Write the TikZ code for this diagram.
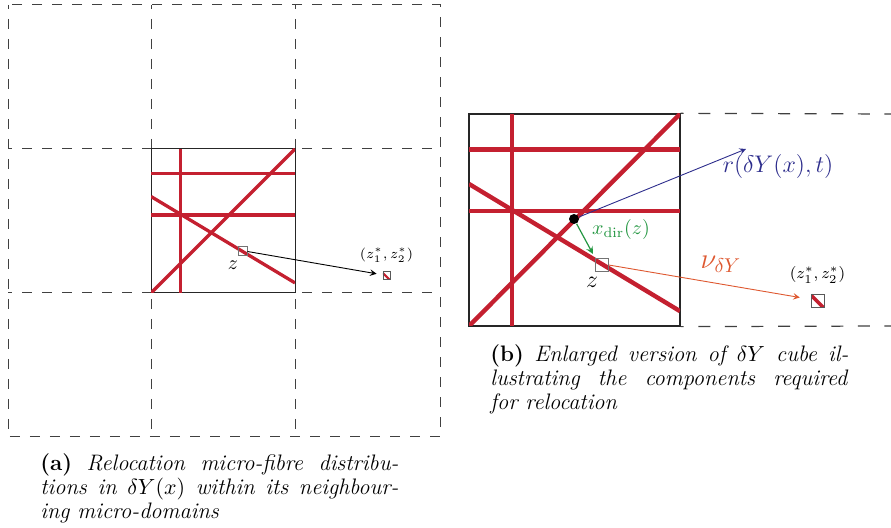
\documentclass[tikz,border=0pt]{standalone}
\usepackage{amsmath,amssymb}
\usepackage{xcolor}
\usetikzlibrary{shapes,arrows,positioning}

\definecolor{fibrered}{RGB}{196,32,48}
\definecolor{rblue}{RGB}{45,45,140}
\definecolor{xgreen}{RGB}{35,150,65}
\definecolor{nuorange}{RGB}{222,88,48}

% the five fibres of one micro-domain, in unit cube coordinates
\newcommand{\fibrenet}[1]{%
  \draw[fibre, line width=#1] (0.205,0) -- (0.205,1);
  \draw[fibre, line width=#1] (0,0.168) -- (1,0.168);
  \draw[fibre, line width=#1] (0,0.458) -- (1,0.458);
  \draw[fibre, line width=#1] (0,1) -- (1,0);
  \draw[fibre, line width=#1] (0,0.33) -- (1,0.93);
}

\begin{document}
\begin{tikzpicture}[
    x=0.5pt, y=-0.5pt,
    >=stealth,
    gridline/.style={dash pattern=on 5pt off 5pt, dash phase=3pt, line width=0.5pt, black!75},
    gridlineB/.style={dash pattern=on 6pt off 7.3pt, dash phase=4.5pt, line width=0.6pt, black!75},
    cellbox/.style={rectangle, draw=black!85, line width=0.5pt, inner sep=0pt},
    fibre/.style={draw=fibrered, line cap=butt},
    zbox/.style={rectangle, draw=black!55, line width=0.5pt, inner sep=0pt},
    starbox/.style={rectangle, draw=black!65, line width=0.4pt, inner sep=0pt,
        path picture={\draw[fibrered, line width=#1]
            ([yshift=-0.6pt]path picture bounding box.north west) -- ([yshift=-0.6pt]path picture bounding box.south east);}},
    arrow/.style={->, line width=0.45pt},
    caption/.style={anchor=north west, text width=179pt, inner sep=0pt, align=justify,
        font=\fontsize{11.2}{12}\selectfont}
]
\useasboundingbox (0,0) rectangle (891,528);

% (a) micro-domain with its neighbours
\draw[gridline] (8,5) rectangle (440,437);
\foreach \x in {151,295}
    \draw[gridline] (\x,5) -- (\x,437);
\foreach \y in {149,293}
    \draw[gridline] (8,\y) -- (440,\y);
\node[cellbox, minimum size=72pt] (cellA) at (223,221) {};
\begin{scope}[shift={(151,149)}, x=72pt, y=-72pt]
    \clip (0,0) rectangle (1,1);
    \fibrenet{1.65pt}
\end{scope}

\node[zbox, minimum size=4.5pt] (zA) at (242.5,251.5) {};
\node (zlabA) at (233,265) {$z$};
\node[starbox=1.1pt, minimum size=3.6pt] (starA) at (386.5,275.5) {};
\node[above=1pt of starA, font=\scriptsize] (starlabA) {$(z_1^*,z_2^*)$};
\draw[arrow, shorten >=3pt] (zA.east) -- (starA);

\node[caption] (capA) at (40,453) {\textbf{(a)} \textit{Relocation micro-fibre distribu-}\linebreak
    \textit{tions in $\delta Y(x)$ within its neighbour-}\linebreak
    \textit{ing micro-domains}};

% (b) enlarged cube
\node[cellbox, minimum width=105.5pt, minimum height=106pt, line width=0.65pt] (cellB) at (574.5,220) {};
\draw[gridlineB] (cellB.north east) -- (891,114);
\draw[gridlineB] (cellB.south east) -- (891,326);
\begin{scope}[shift={(469,114)}, x=105.5pt, y=-106pt]
    \clip (0,0) rectangle (1,1);
    \fibrenet{2.2pt}
\end{scope}

\node[circle, fill, inner sep=0pt, minimum size=5pt] (dot) at (574,219) {};
\node[zbox, minimum size=6.2pt] (zB) at (602,265) {};
\node[font=\large] (zlabB) at (592,282) {$z$};
\node[starbox=1.8pt, minimum size=6.5pt] (starB) at (817.5,300.5) {};
\node[above=1.5pt of starB, font=\footnotesize] (starlabB) {$(z_1^*,z_2^*)$};
\coordinate (rEnd) at (746,149);

\draw[arrow, rblue] (dot) -- (rEnd);
\draw[arrow, xgreen, line width=0.6pt, shorten >=2.5pt] (dot) -- (zB.north west);
\draw[arrow, nuorange, shorten >=5.5pt] (zB.east) -- (starB);

\node[rblue, font=\large] (rlab) at (778,167) {$r(\delta Y(x),t)$};
\node[xgreen] (xdirlab) at (621,230) {$x_{\mathrm{dir}}(z)$};
\node[nuorange, font=\Large] (nulab) at (721,264) {$\nu_{\delta Y}$};

\node[caption] (capB) at (490,344) {\textbf{(b)} \textit{Enlarged version of $\delta Y$ cube il-}\linebreak
    \textit{lustrating the components required}\linebreak
    \textit{for relocation}};
\end{tikzpicture}
\end{document}
